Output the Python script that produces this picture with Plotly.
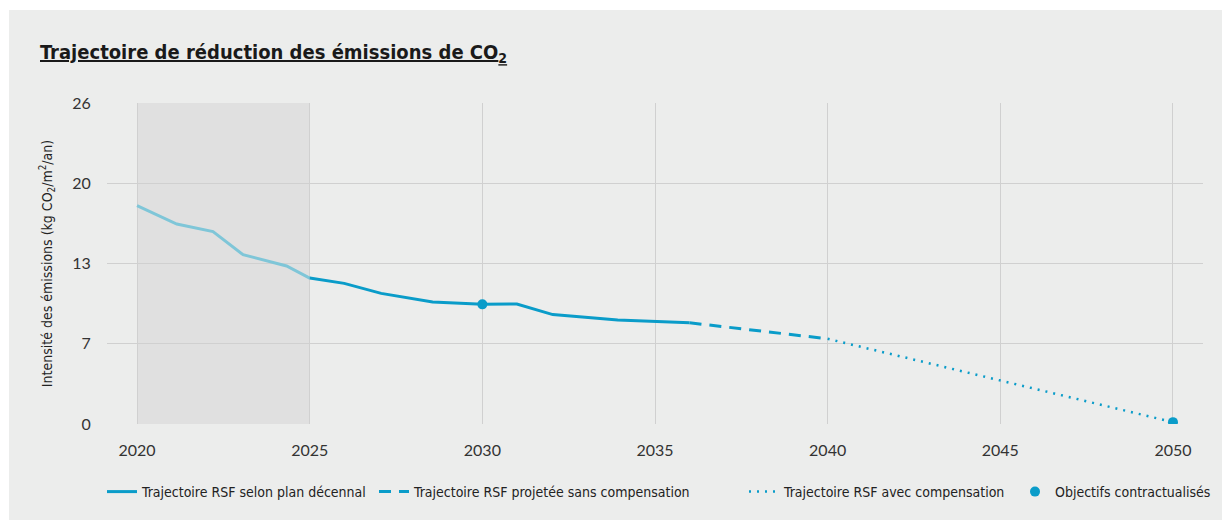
import plotly.graph_objects as go

# Emission intensity trajectory (kg CO2 / m2 / year)
hist_years = [2020, 2021.15, 2022.2, 2023.07, 2024.33, 2025]
hist_values = [17.68, 16.2, 15.58, 13.71, 12.8, 11.82]

plan_years = [2025, 2026, 2027.07, 2028.56, 2030, 2031, 2032.04, 2033.92, 2036]
plan_values = [11.82, 11.39, 10.58, 9.88, 9.69, 9.72, 8.86, 8.42, 8.2]

proj_years = [2036, 2040]
proj_values = [8.2, 6.9]

comp_years = [2040, 2050]
comp_values = [6.9, 0.15]

target_years = [2030, 2050]
target_values = [9.69, 0.15]

y_tickvals = [0, 6.5, 13, 19.5, 26]
y_ticktext = ["0", "7", "13", "20", "26"]
x_tickvals = [2020, 2025, 2030, 2035, 2040, 2045, 2050]

DARK = "#0a9cc9"
LIGHT = "#7fc6d8"
PANEL = "#ecedec"
GRID = "#d0d0d0"
NARROW = "Liberation Sans Narrow, DejaVu Sans Condensed, sans-serif"
TICKFONT = "Lato, Open Sans, sans-serif"

fig = go.Figure()

fig.add_trace(go.Scatter(
    x=hist_years, y=hist_values, mode="lines",
    line=dict(color=LIGHT, width=3), showlegend=False, hoverinfo="skip"))

fig.add_trace(go.Scatter(
    x=plan_years, y=plan_values, mode="lines",
    line=dict(color=DARK, width=3),
    name="Trajectoire RSF selon plan décennal", legend="legend"))

fig.add_trace(go.Scatter(
    x=proj_years, y=proj_values, mode="lines",
    line=dict(color=DARK, width=3, dash="12px,8px"),
    name="Trajectoire RSF projetée sans compensation", legend="legend2"))

fig.add_trace(go.Scatter(
    x=comp_years, y=comp_values, mode="lines",
    line=dict(color=DARK, width=2.5, dash="2px,6px"),
    name="Trajectoire RSF avec compensation", legend="legend3"))

fig.add_trace(go.Scatter(
    x=target_years, y=target_values, mode="markers",
    marker=dict(color=DARK, size=10),
    name="Objectifs contractualisés", legend="legend4"))

L, R, T, B = 107, 19, 103, 96
W, H = 1222, 520
pw, ph = W - L - R, H - T - B


def px_x(p):
    return (p - L) / pw


def px_y(p):
    return (H - B - p) / ph


legend_common = dict(
    orientation="h", yanchor="middle", xanchor="left",
    bgcolor="rgba(0,0,0,0)",
    font=dict(family=NARROW, size=14, color="#222"),
    itemwidth=30, tracegroupgap=0,
)

fig.update_layout(
    width=W, height=H,
    margin=dict(l=L, r=R, t=T, b=B, autoexpand=False),
    paper_bgcolor="white",
    plot_bgcolor=PANEL,
    title=dict(
        text="<u>Trajectoire de réduction des émissions de CO<sub>2</sub></u>",
        x=40 / W, xanchor="left", xref="container",
        y=1 - 52 / H, yanchor="middle", yref="container",
        font=dict(family=NARROW, size=20, color="#1a1a1a", weight="bold"),
    ),
    xaxis=dict(
        range=[2019.13, 2050.87], tickvals=x_tickvals,
        showgrid=True, gridcolor=GRID, gridwidth=1, zeroline=False,
        showline=False, ticks="outside", ticklen=12, tickcolor="rgba(0,0,0,0)",
        tickfont=dict(family=TICKFONT, size=16, color="#333"),
    ),
    yaxis=dict(
        range=[0, 26], tickvals=y_tickvals, ticktext=y_ticktext,
        showgrid=True, gridcolor=GRID, gridwidth=1, zeroline=False,
        showline=False, ticks="outside", ticklen=12, tickcolor="rgba(0,0,0,0)",
        tickfont=dict(family=TICKFONT, size=16, color="#333"),
        title=dict(
            text="Intensité des émissions (kg CO<sub>2</sub>/m<sup>2</sup>/an)",
            font=dict(family=NARROW, size=14, color="#222"),
            standoff=16,
        ),
    ),
    legend=dict(x=px_x(102), y=px_y(492), **legend_common),
    legend2=dict(x=px_x(374), y=px_y(492), **legend_common),
    legend3=dict(x=px_x(744), y=px_y(492), **legend_common),
    legend4=dict(x=px_x(1015), y=px_y(492), **legend_common),
    shapes=[
        # light panel behind the whole chart
        dict(type="rect", xref="paper", yref="paper",
             x0=px_x(9), x1=px_x(W + 5), y0=px_y(H + 5), y1=px_y(10),
             fillcolor=PANEL, line=dict(width=0), layer="below"),
        # shaded historical period
        dict(type="rect", xref="x", yref="paper",
             x0=2020, x1=2025, y0=0, y1=1,
             fillcolor="#e0e0e0", line=dict(width=0), layer="below"),
    ],
)

fig.write_html("out.html")
